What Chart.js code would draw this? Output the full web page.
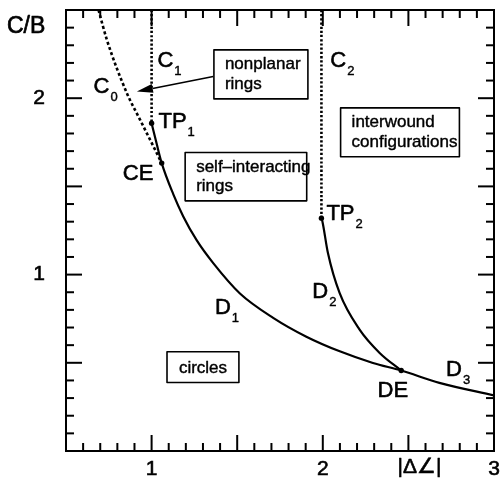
<!DOCTYPE html>
<html>
<head>
<meta charset="utf-8">
<script src="https://cdn.jsdelivr.net/npm/chart.js@4/dist/chart.umd.min.js"></script>
<style>
html,body{margin:0;padding:0;background:#fff;}
#wrap{width:504px;height:487px;}
</style>
</head>
<body>
<div id="wrap"><canvas id="c" width="504" height="487"></canvas></div>
<script>
// ---- data ----
const c0X = [0.69, 0.739, 0.855, 0.933, 1.011, 1.059];
const c0Y = [2.5, 2.33, 2.03, 1.877, 1.726, 1.632];
const c1X = [1.0, 1.0];
const c1Y = [2.5, 1.858];
const c2X = [1.992, 1.992];
const c2Y = [2.5, 1.32];
const d1X = [1.0, 1.03, 1.059, 1.127, 1.185, 1.263, 1.36, 1.516, 1.71, 1.904, 2.099, 2.293, 2.458, 2.681, 3.0];
const d1Y = [1.858, 1.74, 1.632, 1.455, 1.33, 1.195, 1.065, 0.893, 0.755, 0.648, 0.565, 0.499, 0.456, 0.386, 0.315];
const d2X = [1.992, 1.998, 2.03, 2.098, 2.215, 2.332, 2.458];
const d2Y = [1.32, 1.30, 1.122, 0.896, 0.688, 0.556, 0.456];
const specialNames = ['TP1', 'CE', 'TP2', 'DE'];
const specialX = [1.0, 1.059, 1.992, 2.458];
const specialY = [1.858, 1.632, 1.32, 0.456];
const xTickLabels = [1, 2, 3];
const yTickLabels = [1, 2];
const xAxisName = '|Δ∠|';
const yAxisName = 'C/B';

const pts = (xs, ys) => xs.map((x, i) => ({x: x, y: ys[i]}));
const near = (v, arr) => arr.some(a => Math.abs(v - a) < 1e-6);

const FONT = '"Liberation Sans", Arial, Helvetica, sans-serif';

// annotations (data coordinates)
const curveLabels = [
  {t: 'C', s: '0', x: 0.661, y: 2.028},
  {t: 'C', s: '1', x: 1.034, y: 2.179},
  {t: 'C', s: '2', x: 2.044, y: 2.179},
  {t: 'TP', s: '1', x: 1.040, y: 1.830},
  {t: 'CE', s: '', x: 0.832, y: 1.537},
  {t: 'TP', s: '2', x: 2.021, y: 1.311},
  {t: 'D', s: '1', x: 1.370, y: 0.779},
  {t: 'D', s: '2', x: 1.939, y: 0.868},
  {t: 'DE', s: '', x: 2.320, y: 0.307},
  {t: 'D', s: '3', x: 2.720, y: 0.424}
];
const boxes = [
  {x0: 1.364, x1: 1.913, y0: 2.274, y1: 1.996, lines: ['nonplanar', 'rings']},
  {x0: 1.196, x1: 1.906, y0: 1.692, y1: 1.418, lines: ['self–interacting', 'rings']},
  {x0: 2.104, x1: 2.798, y0: 1.945, y1: 1.668, lines: ['interwound', 'configurations']},
  {x0: 1.090, x1: 1.510, y0: 0.563, y1: 0.388, lines: ['circles'], center: true}
];
const arrow = {x0: 1.36, y0: 2.123, x1: 0.914, y1: 2.038};

const deco = {
  id: 'deco',
  afterDraw(chart) {
    const ctx = chart.ctx, a = chart.chartArea;
    const sx = chart.scales.x, sy = chart.scales.y;
    const px = v => sx.getPixelForValue(v), py = v => sy.getPixelForValue(v);
    const line = (x1, y1, x2, y2) => { ctx.beginPath(); ctx.moveTo(x1, y1); ctx.lineTo(x2, y2); ctx.stroke(); };
    const isMajor = v => Math.abs(v * 2 - Math.round(v * 2)) < 1e-6;
    const txt = (s, x, y, sw) => { ctx.fillText(s, x, y); if (sw) { ctx.lineWidth = sw; ctx.strokeText(s, x, y); } };
    ctx.save();
    ctx.strokeStyle = '#000';
    ctx.fillStyle = '#000';
    // frame
    ctx.lineWidth = 2;
    ctx.strokeRect(a.left, a.top, a.right - a.left, a.bottom - a.top);
    // inward ticks
    sx.ticks.forEach(t => {
      const p = px(t.value), L = isMajor(t.value) ? 16 : 8;
      line(p, a.bottom, p, a.bottom - L);
      line(p, a.top, p, a.top + L);
    });
    sy.ticks.forEach(t => {
      const p = py(t.value), L = isMajor(t.value) ? 16 : 8;
      line(a.left, p, a.left + L, p);
      line(a.right, p, a.right - L, p);
    });
    ctx.lineJoin = 'round';
    // axis names
    ctx.font = '23px ' + FONT;
    ctx.textBaseline = 'alphabetic';
    ctx.textAlign = 'left';
    txt(yAxisName, 7, 33, 0.7);
    ctx.font = '21px ' + FONT;
    ctx.textAlign = 'center';
    txt(xAxisName, px(2.565), a.bottom + 22, 0.6);
    // boxes
    boxes.forEach(b => {
      const l = px(b.x0), r = px(b.x1), t = py(b.y0), bt = py(b.y1);
      ctx.fillStyle = '#fff';
      ctx.fillRect(l, t, r - l, bt - t);
      ctx.lineWidth = 1.6;
      ctx.strokeStyle = '#000';
      ctx.strokeRect(l, t, r - l, bt - t);
      ctx.fillStyle = '#000';
      ctx.font = '17px ' + FONT;
      ctx.textBaseline = 'middle';
      const cy = (t + bt) / 2;
      if (b.center) {
        ctx.textAlign = 'center';
        txt(b.lines[0], (l + r) / 2, cy + 1, 0.4);
      } else {
        ctx.textAlign = 'left';
        const n = b.lines.length;
        b.lines.forEach((s, i) => txt(s, l + 11, cy + (i - (n - 1) / 2) * 19.5, 0.4));
      }
    });
    // arrow
    {
      const x0 = px(arrow.x0), y0 = py(arrow.y0), x1 = px(arrow.x1), y1 = py(arrow.y1);
      const ang = Math.atan2(y1 - y0, x1 - x0);
      const hl = 16, hw = 4.5;
      const bx = x1 - hl * Math.cos(ang), by = y1 - hl * Math.sin(ang);
      ctx.lineWidth = 1.6;
      line(x0, y0, bx, by);
      ctx.beginPath();
      ctx.moveTo(x1, y1);
      ctx.lineTo(bx + hw * Math.sin(ang), by - hw * Math.cos(ang));
      ctx.lineTo(bx - hw * Math.sin(ang), by + hw * Math.cos(ang));
      ctx.closePath();
      ctx.fill();
    }
    // curve labels
    ctx.textAlign = 'left';
    ctx.textBaseline = 'alphabetic';
    curveLabels.forEach(lb => {
      const x = px(lb.x), y = py(lb.y);
      ctx.font = '22px ' + FONT;
      txt(lb.t, x, y, 0.6);
      if (lb.s) {
        const w = ctx.measureText(lb.t).width;
        ctx.font = '13px ' + FONT;
        txt(lb.s, x + w + 1, y + 8, 0.4);
      }
    });
    ctx.restore();
  }
};

const dotted = (xs, ys, dash, w) => ({
  data: pts(xs, ys), showLine: true, borderColor: '#000', borderWidth: w,
  borderDash: dash, pointRadius: 0, cubicInterpolationMode: 'monotone', fill: false
});
const solid = (xs, ys) => ({
  data: pts(xs, ys), showLine: true, borderColor: '#000', borderWidth: 2.2,
  pointRadius: 0, cubicInterpolationMode: 'monotone', fill: false
});

new Chart(document.getElementById('c'), {
  type: 'scatter',
  data: {
    datasets: [
      dotted(c0X, c0Y, [3, 2.5], 2.6),
      dotted(c1X, c1Y, [2.2, 2], 2.6),
      dotted(c2X, c2Y, [2.2, 2], 2.6),
      solid(d1X, d1Y),
      solid(d2X, d2Y),
      {data: pts(specialX, specialY), showLine: false, pointRadius: 2.7,
       pointBackgroundColor: '#000', pointBorderColor: '#000', pointBorderWidth: 0}
    ]
  },
  options: {
    responsive: false,
    devicePixelRatio: 1,
    animation: false,
    events: [],
    layout: {padding: {top: 10, right: 10, left: 0, bottom: 0}},
    plugins: {legend: {display: false}, tooltip: {enabled: false}},
    scales: {
      x: {
        type: 'linear', min: 0.5, max: 3,
        grid: {display: false, drawTicks: false},
        border: {display: false},
        ticks: {
          stepSize: 0.1, autoSkip: false, maxRotation: 0, padding: 6,
          color: '#000', font: {family: FONT, size: 21},
          textStrokeColor: '#000', textStrokeWidth: 0.6,
          callback: v => near(v, xTickLabels) ? String(Math.round(v)) : ''
        },
        afterFit: s => { s.height = 36; s.paddingLeft = 0; s.paddingRight = 0; }
      },
      y: {
        type: 'linear', min: 0, max: 2.5,
        grid: {display: false, drawTicks: false},
        border: {display: false},
        ticks: {
          stepSize: 0.1, autoSkip: false, padding: 21,
          color: '#000', font: {family: FONT, size: 21},
          textStrokeColor: '#000', textStrokeWidth: 0.6,
          callback: v => near(v, yTickLabels) ? String(Math.round(v)) : ''
        },
        afterFit: s => { s.width = 66; s.paddingTop = 0; s.paddingBottom = 0; }
      }
    }
  },
  plugins: [deco]
});
</script>
</body>
</html>
